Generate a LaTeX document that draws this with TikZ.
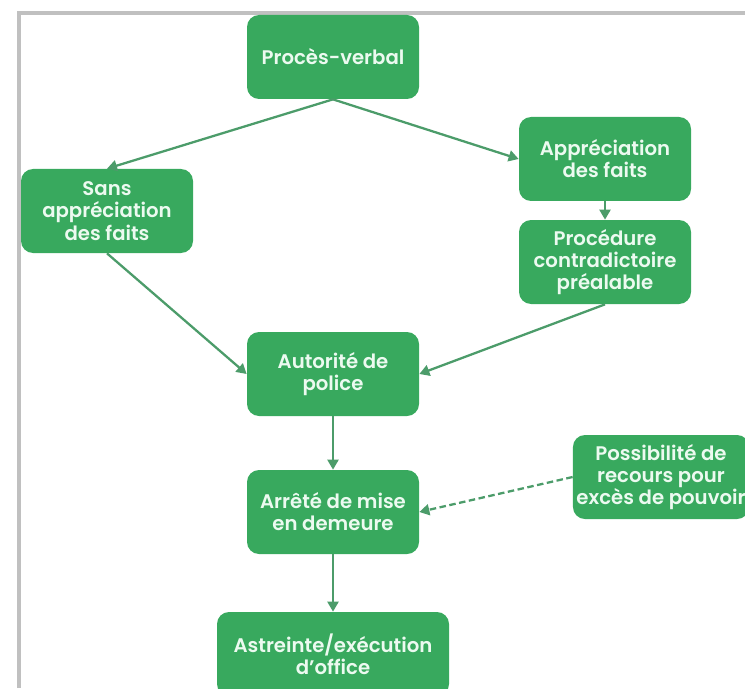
\documentclass[tikz,border=0pt]{standalone}
\usepackage{fontspec}
\setmainfont{Poppins}[BoldFont={Poppins SemiBold}]
\usetikzlibrary{arrows.meta,positioning}

\definecolor{boxgreen}{RGB}{56,169,94}
\definecolor{linkgreen}{RGB}{76,156,106}
\definecolor{boxtext}{RGB}{236,250,240}
\definecolor{framegray}{RGB}{192,192,192}

\begin{document}
\begin{tikzpicture}[
  font=\fontsize{11.2}{12.6}\selectfont\bfseries,
  etape/.style={draw=none, rounded corners=0.24cm, fill=boxgreen, text=boxtext, minimum width=3.44cm, minimum height=1.68cm, align=center, inner sep=2pt},
  lien/.style={-{Triangle[length=2mm,width=2.2mm]}, line width=1.3pt, draw=linkgreen},
  recours/.style={lien, dash pattern=on 1.3mm off 0.7mm}
]
\useasboundingbox (0,0) rectangle (14.9,13.76);
\draw[framegray, line width=1.8pt] (0.38,0) -- (0.38,13.5) -- (14.9,13.5);

\node[etape] (pv)     at (6.66,12.62) {Procès-verbal};
\node[etape] (sans)   at (2.14,9.54)  {Sans\\appréciation\\des faits};
\node[etape] (appr)   at (12.10,10.58) {Appréciation\\des faits};
\node[etape] (proc)   at (12.10,8.52) {Procédure\\contradictoire\\préalable};
\node[etape] (auto)   at (6.66,6.28)  {Autorité de\\police};
\node[etape] (arrete) at (6.66,3.52)  {Arrêté de mise\\en demeure};
\node[etape] (poss)   at (13.22,4.22) {Possibilité de\\recours pour\\excès de pouvoir};
\node[etape, minimum width=4.64cm] (astr) at (6.66,0.68) {Astreinte/exécution\\d’office};

\foreach \a/\b in {pv.south/sans.north, pv.south/appr.west, appr/proc, sans.south/auto.west, proc.south/auto.east, auto/arrete, arrete/astr}
  \draw[lien] (\a) -- (\b);

% recours contentieux
\draw[recours] (poss.west) -- (arrete.east);

\end{tikzpicture}
\end{document}
